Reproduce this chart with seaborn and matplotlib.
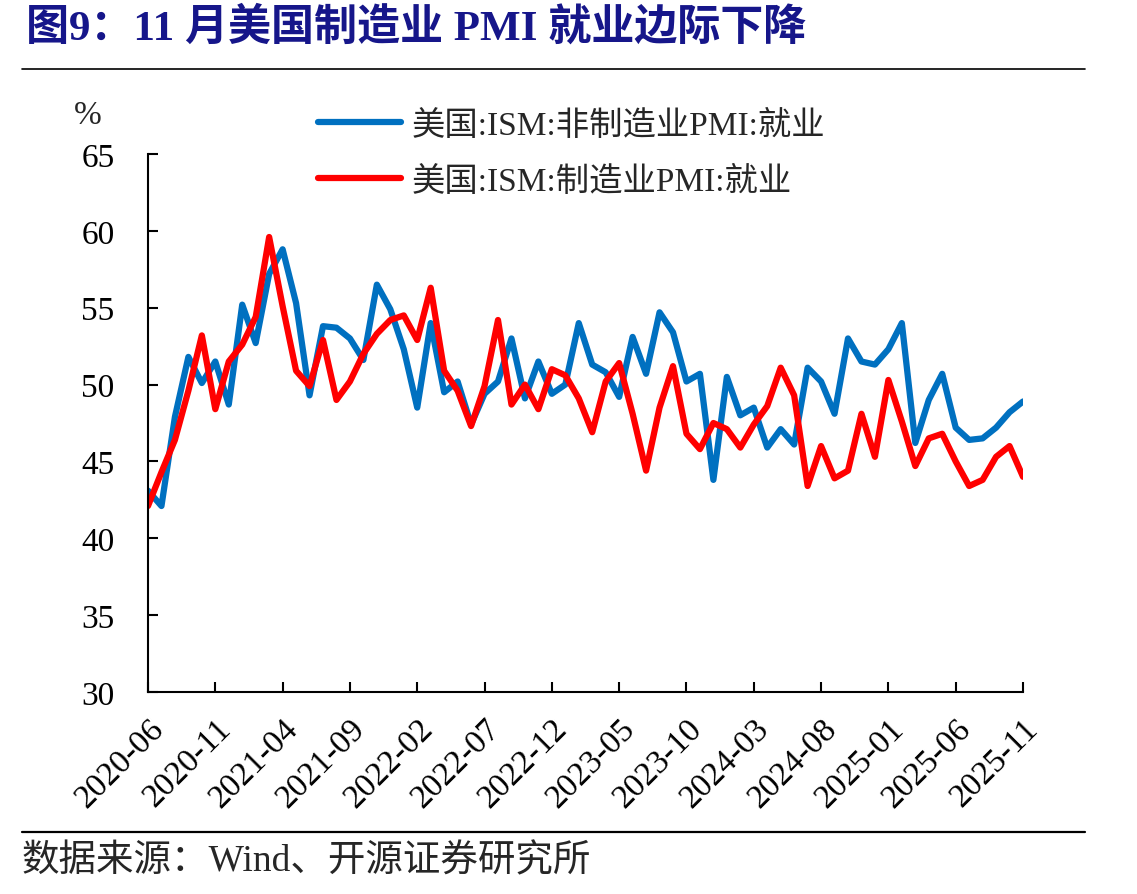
"""
图9：11月美国制造业 PMI 就业边际下降
"""

import numpy as np
import pandas as pd
import seaborn as sns
import matplotlib.pyplot as plt
from matplotlib.lines import Line2D

# 月份 2020-06 ~ 2025-11
meses = [p.strftime("%Y-%m") for p in pd.period_range("2020-06", "2025-11", freq="M")]

# 美国:ISM:非制造业PMI:就业
nao_manuf = [43.1, 42.1, 47.9, 51.8, 50.1, 51.5, 48.7,
             55.2, 52.7, 57.2, 58.8, 55.3, 49.3, 53.8, 53.7, 53.0, 51.6, 56.5, 54.9,
             52.3, 48.5, 54.0, 49.5, 50.2, 47.4, 49.4, 50.2, 53.0, 49.1, 51.5, 49.4,
             50.0, 54.0, 51.3, 50.8, 49.2, 53.1, 50.7, 54.7, 53.4, 50.2, 50.7, 43.8,
             50.5, 48.0, 48.5, 45.9, 47.1, 46.1, 51.1, 50.2, 48.1, 53.0, 51.5, 51.3,
             52.3, 54.0, 46.2, 49.0, 50.7, 47.2, 46.4, 46.5, 47.2, 48.2, 48.9]

# 美国:ISM:制造业PMI:就业
manuf = [42.1, 44.3, 46.4, 49.6, 53.2, 48.4, 51.5,
         52.6, 54.4, 59.6, 55.1, 50.9, 49.9, 52.9, 49.0, 50.2, 52.0, 53.3, 54.2,
         54.5, 52.9, 56.3, 50.9, 49.6, 47.3, 49.9, 54.2, 48.7, 50.0, 48.4, 51.0,
         50.6, 49.1, 46.9, 50.2, 51.4, 48.1, 44.4, 48.5, 51.2, 46.8, 45.8, 47.5,
         47.1, 45.9, 47.4, 48.6, 51.1, 49.3, 43.4, 46.0, 43.9, 44.4, 48.1, 45.3,
         50.3, 47.6, 44.7, 46.5, 46.8, 45.0, 43.4, 43.8, 45.3, 46.0, 44.0]

series = ["美国:ISM:非制造业PMI:就业", "美国:ISM:制造业PMI:就业"]
cores = ["#0070C0", "#FF0000"]
yticks = [30, 35, 40, 45, 50, 55, 60, 65]

idx = np.arange(len(meses))
df = pd.concat([
    pd.DataFrame({"idx": idx, "mes": meses, "valor": nao_manuf, "serie": series[0]}),
    pd.DataFrame({"idx": idx, "mes": meses, "valor": manuf, "serie": series[1]}),
])

sns.set_theme(style="white")
plt.rcParams["font.family"] = ["Liberation Serif", "Noto Sans CJK SC", "DejaVu Sans"]
plt.rcParams["axes.linewidth"] = 1.5

fig = plt.figure(figsize=(11.37, 8.95), dpi=100)
ax = fig.add_axes([148 / 1137, 1 - 693 / 895, (1023 - 148) / 1137, (693 - 155) / 895])

sns.lineplot(data=df, x="idx", y="valor", hue="serie", hue_order=series,
             palette=cores, linewidth=4.5, ax=ax, sort=False)
for ln in ax.get_lines():
    ln.set_solid_joinstyle("round")
    ln.set_solid_capstyle("round")

ax.set_xlim(0, len(meses) - 1)
ax.set_ylim(30, 65)
ax.set_yticks(yticks)
ax.set_xticks(idx[::5])
ax.set_xticklabels(meses[::5], rotation=45, ha="right", rotation_mode="anchor")
ax.set_xlabel("")
ax.set_ylabel("")
ax.tick_params(axis="both", direction="in", length=7, width=1.5, labelsize=24,
               colors="black", bottom=True, left=True)
ax.tick_params(axis="y", pad=24)
ax.tick_params(axis="x", pad=15)
sns.despine(ax=ax, top=True, right=True)
for s in ["left", "bottom"]:
    ax.spines[s].set_color("black")

sns.move_legend(ax, "upper left", bbox_to_anchor=(318 / 1137, 1 - 111 / 895),
                bbox_transform=fig.transFigure, frameon=False, title=None,
                fontsize=24, handlelength=2.5, handletextpad=0.3,
                labelspacing=0.75, borderpad=0, borderaxespad=0)

fig.text(88 / 1137, 1 - 116 / 895, "%", fontsize=24, ha="center", va="center")

fig.text(26 / 1137, 1 - 28 / 895, "图9：11 月美国制造业 PMI 就业边际下降",
         fontsize=31, fontweight="bold", color="#16168A", ha="left", va="center")
fig.add_artist(Line2D([22 / 1137, 1085 / 1137], [1 - 70 / 895] * 2,
                      transform=fig.transFigure, color="black", lw=1.2))
fig.add_artist(Line2D([22 / 1137, 1085 / 1137], [1 - 833 / 895] * 2,
                      transform=fig.transFigure, color="black", lw=1.6))
fig.text(22 / 1137, 1 - 862 / 895, "数据来源：Wind、开源证券研究所",
         fontsize=27, ha="left", va="center")

fig.savefig("out.png", dpi=100)
